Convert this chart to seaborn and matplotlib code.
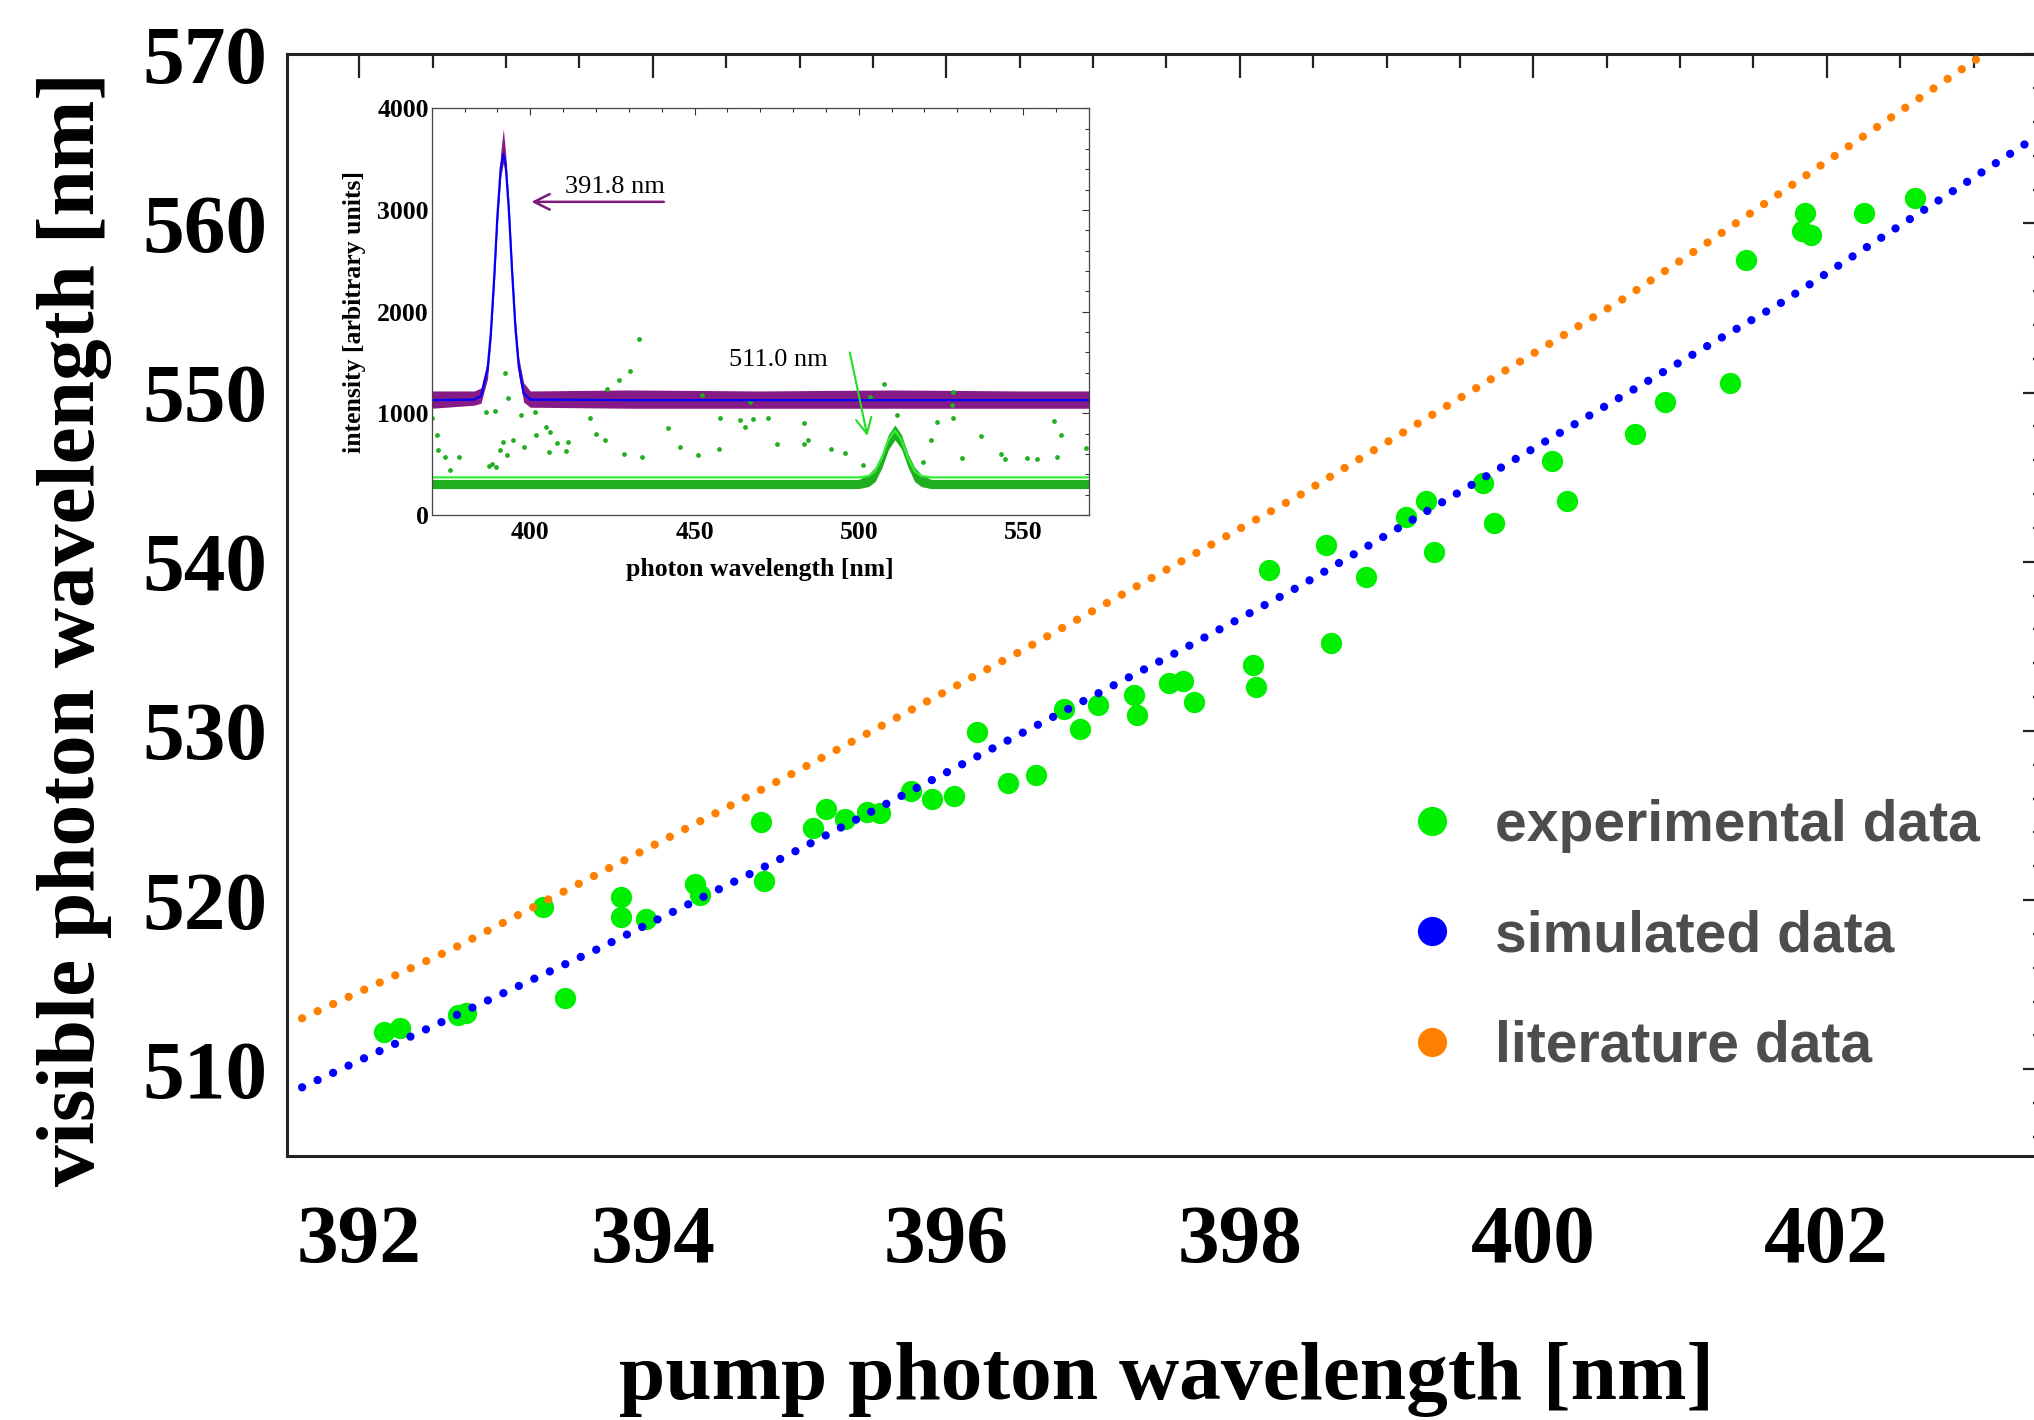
import numpy as np
import pandas as pd
import matplotlib.pyplot as plt
from matplotlib.lines import Line2D
from matplotlib.ticker import MultipleLocator
import seaborn as sns

# ---- main plot data ----
exp_pump = [392.17, 392.28, 392.67, 392.73, 393.25, 393.40, 393.78, 393.78, 393.95,
            394.29, 394.32, 394.74, 394.76, 395.09, 395.18, 395.31, 395.46, 395.55,
            395.76, 395.90, 396.05, 396.21, 396.42, 396.61, 396.80, 396.91, 397.03,
            397.28, 397.30, 397.52, 397.61, 397.69, 398.09, 398.11, 398.20, 398.59,
            398.62, 398.86, 399.13, 399.27, 399.32, 399.66, 399.73, 400.13, 400.23,
            400.69, 400.90, 401.34, 401.45, 401.85, 401.83, 401.89, 402.25, 402.60]
exp_visible = [512.22, 512.42, 513.21, 513.31, 519.61, 514.20, 520.20, 518.98, 518.86,
               520.95, 520.30, 524.63, 521.14, 524.25, 525.38, 524.78, 525.19, 525.13,
               526.47, 525.98, 526.17, 529.94, 526.90, 527.39, 531.28, 530.12, 531.53,
               532.13, 530.94, 532.82, 532.95, 531.73, 533.90, 532.58, 539.51, 540.99,
               535.18, 539.12, 542.63, 543.59, 540.56, 544.64, 542.31, 545.98, 543.59,
               547.53, 549.46, 550.59, 557.84, 560.60, 559.54, 559.34, 560.64, 561.52]

sim_pump = [391.61, 393.61, 394.91, 397.60, 398.41, 401.29, 401.70, 403.40, 403.55]
sim_visible = [508.93, 517.05, 522.61, 534.78, 538.57, 553.29, 555.37, 564.97, 565.85]

lit_pump = [391.61, 392.62, 394.91, 396.50, 398.41, 400.60, 401.19, 403.05, 403.20]
lit_visible = [513.01, 517.05, 527.29, 534.68, 543.95, 555.47, 558.89, 569.89, 570.80]

# ---- inset data (spectra) ----
pur_x = [370, 383, 385, 387, 388, 389, 390, 391, 391.8, 392.5, 393.5, 394.5, 395.5,
         396.5, 398, 400, 430, 470, 510, 550, 570]
pur_fit = [1130, 1135, 1170, 1430, 1790, 2320, 2940, 3410, 3550, 3450, 2990, 2380,
           1830, 1460, 1200, 1135, 1130, 1130, 1130, 1130, 1130]
pur_low = [1050, 1080, 1100, 1340, 1700, 2230, 2850, 3320, 3460, 3360, 2900, 2290,
           1740, 1370, 1110, 1060, 1050, 1050, 1050, 1050, 1050]
pur_high = [1220, 1220, 1250, 1520, 1880, 2420, 3040, 3560, 3800, 3560, 3090, 2470,
            1920, 1550, 1300, 1220, 1230, 1220, 1230, 1220, 1220]

grn_x = [370, 500, 503, 505, 507, 509, 511, 513, 515, 517, 519, 522, 570]
grn_fit = [370, 370, 383, 432, 559, 738, 830, 738, 559, 432, 383, 370, 370]
grn_low = [260, 260, 280, 330, 460, 640, 740, 650, 470, 330, 280, 260, 260]
grn_high = [350, 350, 400, 470, 600, 790, 885, 790, 600, 470, 400, 350, 350]

out_x = [370.0, 371.6, 371.9, 374.2, 378.2, 375.7, 386.6, 389.4, 392.4, 393.2, 391.7,
         394.7, 390.9, 392.9, 397.3, 398.1, 401.4, 401.8, 404.8, 406.0, 408.1, 405.6,
         411.5, 410.8, 418.3, 420.1, 422.7, 423.5, 426.9, 430.5, 433.2, 428.4, 434.1,
         441.9, 445.5, 451.1, 452.2, 457.9, 457.6, 463.8, 465.4, 466.8, 467.9, 472.5,
         475.0, 483.3, 483.3, 484.7, 491.5, 495.7, 501.2, 503.4, 507.6, 511.6, 522.1,
         523.9, 528.8, 528.5, 528.8, 531.4, 537.3, 543.3, 551.2, 559.4, 561.7, 560.2,
         569.2, 519.6, 544.5, 554.2, 387.5, 388.5, 389.5]
out_y = [951, 787, 639, 574, 574, 443, 1016, 1026, 1400, 1148, 721, 738, 639, 590, 984,
         672, 1016, 787, 869, 820, 705, 623, 721, 633, 951, 797, 738, 1236, 1328, 1417,
         1728, 597, 567, 859, 672, 590, 1180, 951, 649, 934, 862, 1108, 941, 957, 698,
         902, 698, 738, 646, 607, 492, 1157, 1285, 984, 738, 918, 1213, 1082, 951, 557,
         777, 597, 557, 928, 787, 574, 656, 525, 548, 548, 480, 500, 470]

sns.set_style("white")
plt.rcParams['font.family'] = ['Liberation Serif', 'DejaVu Serif']
plt.rcParams['font.weight'] = 'bold'
plt.rcParams['text.color'] = 'black'
plt.rcParams['axes.labelcolor'] = 'black'
plt.rcParams['xtick.color'] = 'black'
plt.rcParams['ytick.color'] = 'black'

fig = plt.figure(figsize=(20.34, 14.2), dpi=100)
ax = fig.add_axes([287 / 2034, 264 / 1420, 1760 / 2034, 1101.7 / 1420])

df = pd.DataFrame({'pump': exp_pump, 'visible': exp_visible})
sns.scatterplot(data=df, x='pump', y='visible', ax=ax, color='#00ee00', s=235,
                linewidth=0, zorder=2)
ax.plot(sim_pump, sim_visible, color='#0000ff', lw=6, linestyle=(0, (0.001, 2.05)),
        dash_capstyle='round', zorder=3)
ax.plot(lit_pump, lit_visible, color='#ff8000', lw=6, linestyle=(0, (0.001, 2.05)),
        dash_capstyle='round', zorder=3)

ax.set_xlim(391.507, 403.5)
ax.set_ylim(504.87, 570)
ax.xaxis.set_major_locator(MultipleLocator(2))
ax.xaxis.set_minor_locator(MultipleLocator(0.5))
ax.yaxis.set_major_locator(MultipleLocator(10))
ax.yaxis.set_minor_locator(MultipleLocator(2))
ax.tick_params(which='both', direction='in', top=True, right=True, width=1.6,
               color='#222222')
ax.tick_params(which='major', length=17)
ax.tick_params(which='minor', length=10)
ax.tick_params(axis='x', which='major', labelsize=60, pad=35)
ax.tick_params(axis='y', which='major', labelsize=60, pad=14)
for sp in ax.spines.values():
    sp.set_linewidth(2.2)
    sp.set_color('#222222')

ax.set_xlabel('pump photon wavelength [nm]', fontsize=60, fontweight='bold')
ax.set_ylabel('visible photon wavelength [nm]', fontsize=60, fontweight='bold')
ax.xaxis.label.set_va('center')
ax.yaxis.label.set_va('center')
ax.xaxis.set_label_coords(0.5, -0.203)
ax.yaxis.set_label_coords(-0.121, 0.478)

handles = [Line2D([], [], marker='o', ls='none', markersize=20, color=c)
           for c in ['#00ee00', '#0000ff', '#ff8000']]
leg = ax.legend(handles, ['experimental data', 'simulated data', 'literature data'],
                loc='upper left', bbox_to_anchor=(1375.5 / 2034, 0.4575),
                bbox_transform=fig.transFigure, frameon=False, borderpad=0,
                handlelength=1.0, handletextpad=0.6, labelspacing=0.99,
                prop={'family': 'Liberation Sans', 'weight': 'bold', 'size': 41})
for t in leg.get_texts():
    t.set_color('#4d4d4d')

# ---- inset ----
ins = fig.add_axes([431.7 / 2034, 905 / 1420, 657 / 2034, 406.7 / 1420])
ins.set_facecolor('white')
ins.fill_between(pur_x, pur_low, pur_high, color='#861a86', lw=0)
ins.plot(pur_x, pur_fit, color='#0000ff', lw=1.6)
ins.fill_between(grn_x, grn_low, grn_high, color='#1fae1f', lw=0)
sns.scatterplot(x=out_x, y=out_y, ax=ins, color='#22b022', s=12, linewidth=0)
ins.plot(grn_x, grn_fit, color='#33ee33', lw=1.6)

ins.annotate('', xy=(399.5, 3080), xytext=(441.5, 3080),
             arrowprops=dict(arrowstyle='->', color='#7a1a7a', lw=1.8,
                             mutation_scale=28))
ins.text(410.5, 3230, '391.8 nm', fontsize=19, fontweight='normal', va='center')
ins.annotate('', xy=(502.8, 750), xytext=(497.1, 1625),
             arrowprops=dict(arrowstyle='->', color='#22dd22', lw=1.5,
                             mutation_scale=28))
ins.text(460.5, 1525, '511.0 nm', fontsize=19, fontweight='normal', va='center')

ins.set_xlim(370, 570)
ins.set_ylim(0, 4000)
ins.xaxis.set_major_locator(MultipleLocator(50))
ins.xaxis.set_minor_locator(MultipleLocator(10))
ins.yaxis.set_major_locator(MultipleLocator(1000))
ins.yaxis.set_minor_locator(MultipleLocator(200))
ins.tick_params(which='both', direction='in', top=True, right=True, width=0.8,
                labelsize=18.5, color='#333333')
ins.tick_params(which='major', length=5)
ins.tick_params(which='minor', length=3)
ins.tick_params(axis='x', pad=4)
ins.tick_params(axis='y', pad=2)
for sp in ins.spines.values():
    sp.set_linewidth(0.9)
    sp.set_color('#444444')
ins.set_xlabel('photon wavelength [nm]', fontsize=18.5, fontweight='bold')
ins.set_ylabel('intensity [arbitrary units]', fontsize=18.5, fontweight='bold')
ins.xaxis.label.set_va('center')
ins.yaxis.label.set_va('center')
ins.xaxis.set_label_coords(0.5, -0.135)
ins.yaxis.set_label_coords(-0.1175, 0.5)

fig.savefig('out.png', dpi=100)
